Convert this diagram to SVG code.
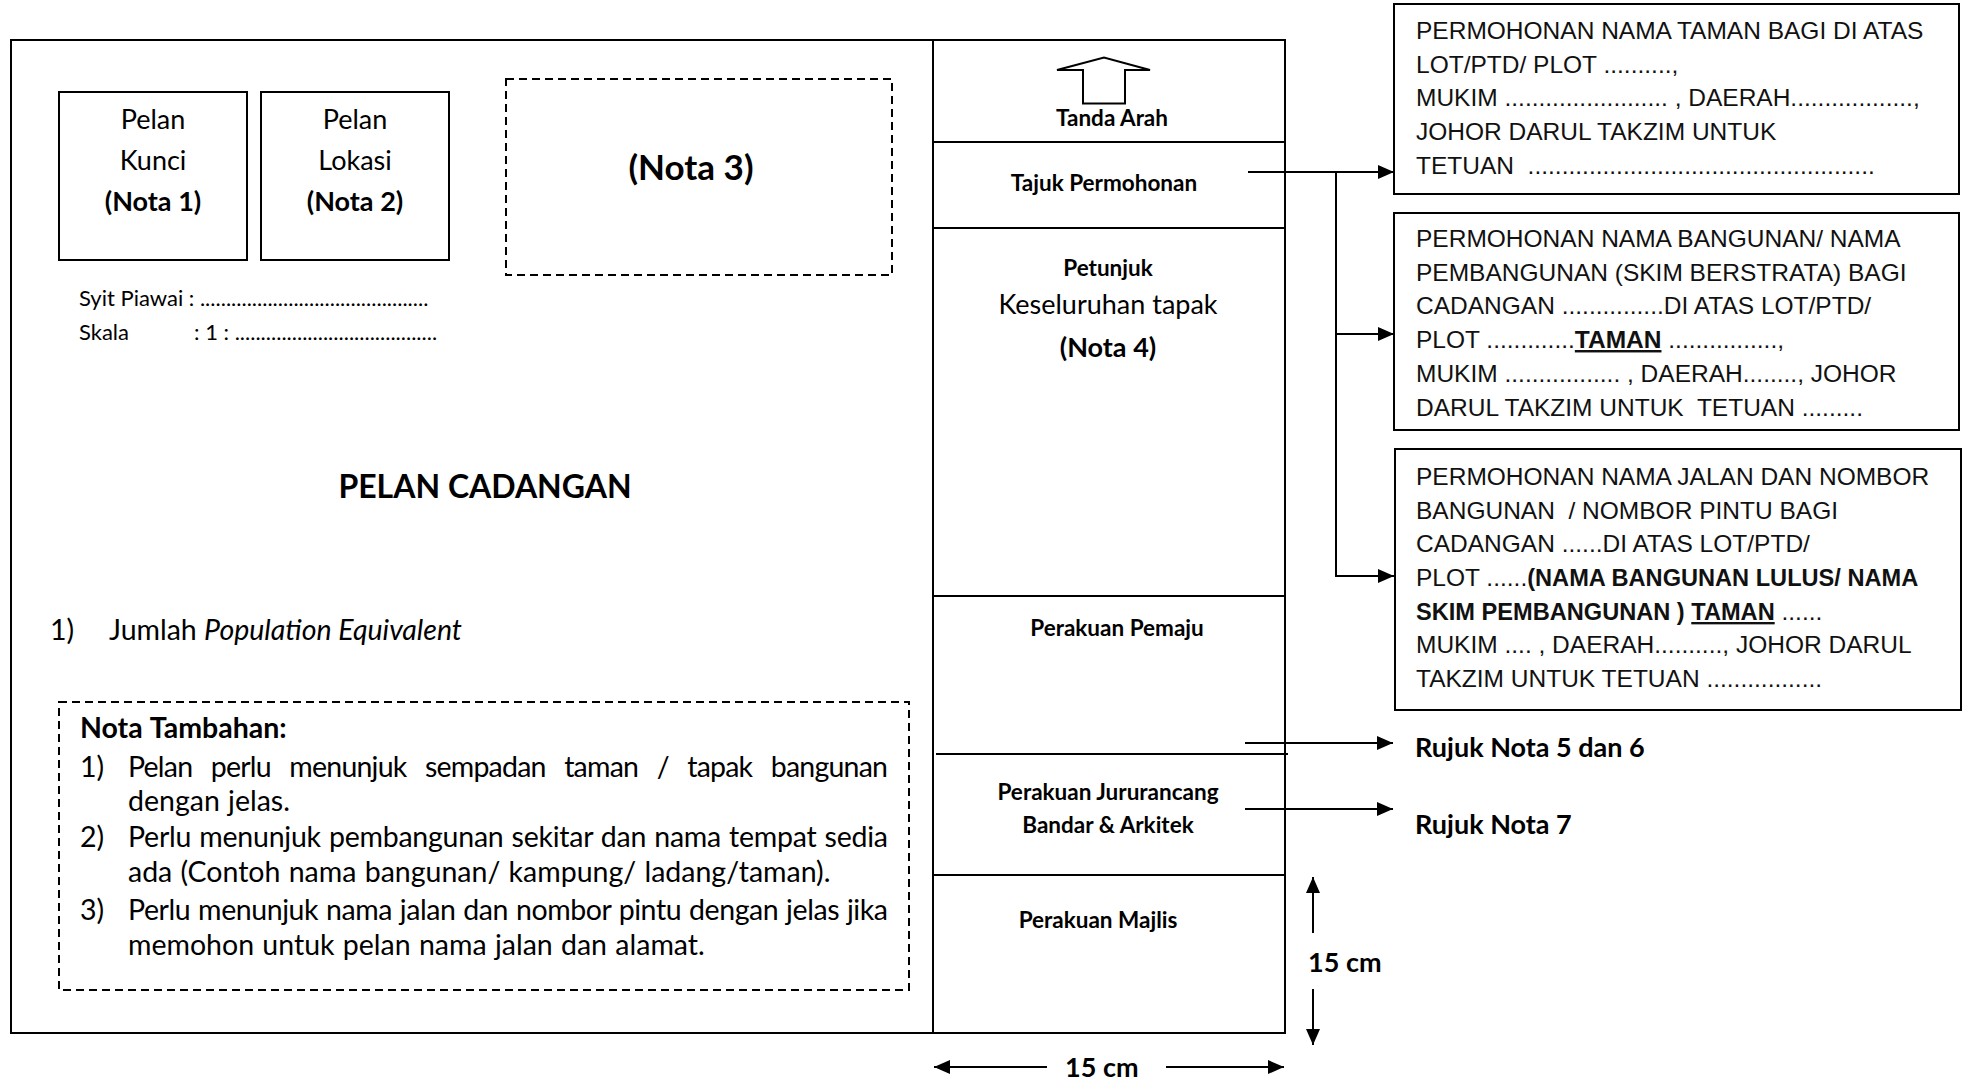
<svg xmlns="http://www.w3.org/2000/svg" width="1967" height="1078" viewBox="0 0 1967 1078">
<defs>
<style>
.ln{stroke:#000;stroke-width:2;fill:none}
.dash{stroke:#000;stroke-width:2;fill:none;stroke-dasharray:8 5}
.cal{font-family:Lato,"Open Sans",sans-serif;fill:#000}
.b{font-weight:bold}
.nt{font-size:28.5px;word-spacing:1px}
.col{font-family:Lato,"Open Sans",sans-serif;font-weight:bold;font-size:22.5px;text-anchor:middle}
.cg{font-family:"Liberation Sans",Arial,sans-serif;font-size:24.5px;fill:#111}
.cgb{font-weight:bold;font-size:23.6px}
.u{text-decoration:underline}
</style>
<marker id="ah" markerUnits="userSpaceOnUse" markerWidth="16" markerHeight="14" refX="16" refY="7" orient="auto">
<path d="M0,0 L16,7 L0,14 z" fill="#000"/>
</marker>
</defs>
<rect width="1967" height="1078" fill="#fff"/>

<g id="sheet">
<rect class="ln" x="11" y="40" width="1274" height="993"/>
<line class="ln" x1="933" y1="40" x2="933" y2="1033"/>
</g>

<g id="pelan-kunci">
<rect class="ln" x="59" y="92" width="188" height="168"/>
<text class="cal" font-size="27" text-anchor="middle" x="153" y="129">Pelan</text>
<text class="cal" font-size="27" text-anchor="middle" x="153" y="170">Kunci</text>
<text class="cal b" font-size="27" text-anchor="middle" x="153" y="211">(Nota 1)</text>
</g>

<g id="pelan-lokasi">
<rect class="ln" x="261" y="92" width="188" height="168"/>
<text class="cal" font-size="27" text-anchor="middle" x="355" y="129">Pelan</text>
<text class="cal" font-size="27" text-anchor="middle" x="355" y="170">Lokasi</text>
<text class="cal b" font-size="27" text-anchor="middle" x="355" y="211">(Nota 2)</text>
</g>

<g id="nota3">
<rect class="dash" x="506" y="79" width="386" height="196"/>
<text class="cal b" font-size="35" text-anchor="middle" x="691" y="180">(Nota 3)</text>
</g>

<g id="syit">
<text class="cal" font-size="22" x="79" y="306">Syit Piawai : ............................................</text>
<text class="cal" font-size="22" x="79" y="340">Skala</text>
<text class="cal" font-size="22" x="194" y="340">: 1 : .......................................</text>
</g>

<g id="pelan-cadangan">
<text class="cal b" font-size="32" text-anchor="middle" x="485" y="498">PELAN CADANGAN</text>
</g>

<g id="jumlah">
<text class="cal" font-size="28.5" x="50" y="640">1)</text>
<text class="cal" font-size="28.5" x="109" y="640">Jumlah <tspan font-style="italic">Population Equivalent</tspan></text>
</g>

<g id="nota-tambahan">
<rect class="dash" x="59" y="702" width="850" height="288"/>
<text class="cal b nt" x="80" y="738">Nota Tambahan:</text>
<text class="cal nt" x="80" y="777">1)</text>
<text class="cal nt" x="128" y="777" style="word-spacing:12px" textLength="760" lengthAdjust="spacing">Pelan perlu menunjuk sempadan taman / tapak bangunan</text>
<text class="cal nt" x="128" y="811">dengan jelas.</text>
<text class="cal nt" x="80" y="847">2)</text>
<text class="cal nt" x="128" y="847" textLength="760" lengthAdjust="spacing">Perlu menunjuk pembangunan sekitar dan nama tempat sedia</text>
<text class="cal nt" x="128" y="882">ada (Contoh nama bangunan/ kampung/ ladang/taman).</text>
<text class="cal nt" x="80" y="920">3)</text>
<text class="cal nt" x="128" y="920" textLength="760" lengthAdjust="spacing">Perlu menunjuk nama jalan dan nombor pintu dengan jelas jika</text>
<text class="cal nt" x="128" y="955">memohon untuk pelan nama jalan dan alamat.</text>
</g>

<g id="tanda-arah">
<line class="ln" x1="933" y1="142" x2="1285" y2="142"/>
<polygon class="ln" points="1057,70 1104,57.5 1150,70 1125,70 1125,103.5 1083,103.5 1083,70"/>
<text class="col" x="1112" y="126">Tanda Arah</text>
</g>

<g id="tajuk-permohonan">
<line class="ln" x1="933" y1="228" x2="1285" y2="228"/>
<text class="col" x="1104" y="191">Tajuk Permohonan</text>
</g>

<g id="petunjuk">
<line class="ln" x1="933" y1="596" x2="1285" y2="596"/>
<text class="col" x="1108" y="276">Petunjuk</text>
<text class="cal" font-size="27" text-anchor="middle" x="1108" y="314">Keseluruhan tapak</text>
<text class="cal b" font-size="27" text-anchor="middle" x="1108" y="357">(Nota 4)</text>
</g>

<g id="perakuan-pemaju">
<line class="ln" x1="936" y1="754" x2="1288" y2="754"/>
<text class="col" x="1117" y="636">Perakuan Pemaju</text>
</g>

<g id="perakuan-jururancang">
<line class="ln" x1="932" y1="875" x2="1284" y2="875"/>
<text class="col" x="1108" y="800">Perakuan Jururancang</text>
<text class="col" x="1108" y="833">Bandar &amp; Arkitek</text>
</g>

<g id="perakuan-majlis">
<text class="col" x="1098" y="928">Perakuan Majlis</text>
</g>

<g id="box-taman">
<rect class="ln" x="1394" y="4" width="565" height="190"/>
<text class="cg" x="1416" y="39">PERMOHONAN NAMA TAMAN BAGI DI ATAS</text>
<text class="cg" x="1416" y="73">LOT/PTD/ PLOT ..........,</text>
<text class="cg" x="1416" y="106">MUKIM ........................ , DAERAH..................,</text>
<text class="cg" x="1416" y="140">JOHOR DARUL TAKZIM UNTUK</text>
<text class="cg" x="1416" y="174" xml:space="preserve">TETUAN  ...................................................</text>
</g>

<g id="box-bangunan">
<rect class="ln" x="1394" y="213" width="565" height="217"/>
<text class="cg" x="1416" y="247">PERMOHONAN NAMA BANGUNAN/ NAMA</text>
<text class="cg" x="1416" y="281">PEMBANGUNAN (SKIM BERSTRATA) BAGI</text>
<text class="cg" x="1416" y="314">CADANGAN ...............DI ATAS LOT/PTD/</text>
<text class="cg" x="1416" y="348">PLOT .............<tspan font-weight="bold" class="u">TAMAN</tspan> ................,</text>
<text class="cg" x="1416" y="382">MUKIM ................. , DAERAH........, JOHOR</text>
<text class="cg" x="1416" y="416" xml:space="preserve">DARUL TAKZIM UNTUK  TETUAN .........</text>
</g>

<g id="box-jalan">
<rect class="ln" x="1395" y="449" width="566" height="261"/>
<text class="cg" x="1416" y="485">PERMOHONAN NAMA JALAN DAN NOMBOR</text>
<text class="cg" x="1416" y="519" xml:space="preserve">BANGUNAN  / NOMBOR PINTU BAGI</text>
<text class="cg" x="1416" y="552">CADANGAN ......DI ATAS LOT/PTD/</text>
<text class="cg" x="1416" y="586">PLOT ......<tspan class="cgb">(NAMA BANGUNAN LULUS/ NAMA</tspan></text>
<text class="cg" x="1416" y="620" xml:space="preserve"><tspan class="cgb">SKIM PEMBANGUNAN ) </tspan><tspan class="cgb u">TAMAN</tspan> ......</text>
<text class="cg" x="1416" y="653">MUKIM .... , DAERAH.........., JOHOR DARUL</text>
<text class="cg" x="1416" y="687">TAKZIM UNTUK TETUAN .................</text>
</g>

<g id="rujuk-5-6">
<text class="cal b" font-size="27" x="1415" y="757">Rujuk Nota 5 dan 6</text>
</g>
<g id="rujuk-7">
<text class="cal b" font-size="27" x="1415" y="834">Rujuk Nota 7</text>
</g>

<g id="dimensions">
<text class="cal b" font-size="27" x="1308" y="972">15 cm</text>
<text class="cal b" font-size="27" x="1065" y="1077">15 cm</text>
</g>

<g id="connectors">
<line class="ln" x1="1248" y1="172" x2="1394" y2="172" marker-end="url(#ah)"/>
<line class="ln" x1="1336" y1="172" x2="1336" y2="576"/>
<line class="ln" x1="1335" y1="334" x2="1394" y2="334" marker-end="url(#ah)"/>
<line class="ln" x1="1335" y1="576" x2="1394" y2="576" marker-end="url(#ah)"/>
<line class="ln" x1="1245" y1="743" x2="1393" y2="743" marker-end="url(#ah)"/>
<line class="ln" x1="1245" y1="809" x2="1393" y2="809" marker-end="url(#ah)"/>
<line class="ln" x1="1313" y1="933" x2="1313" y2="877" marker-end="url(#ah)"/>
<line class="ln" x1="1313" y1="989" x2="1313" y2="1045" marker-end="url(#ah)"/>
<line class="ln" x1="1047" y1="1067" x2="934" y2="1067" marker-end="url(#ah)"/>
<line class="ln" x1="1166" y1="1067" x2="1284" y2="1067" marker-end="url(#ah)"/>
</g>
</svg>
